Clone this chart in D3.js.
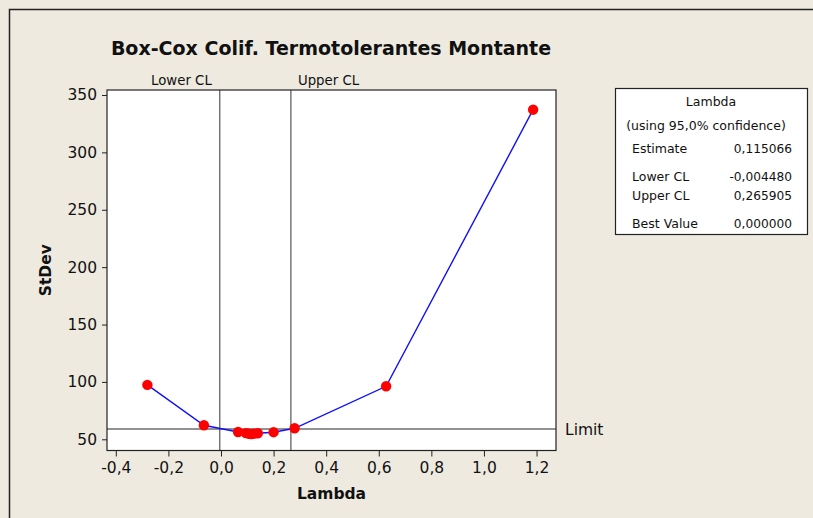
<!DOCTYPE html>
<html>
<head>
<meta charset="utf-8">
<script src="https://cdn.jsdelivr.net/npm/d3@7"></script>
<style>
  html, body { margin: 0; padding: 0; background: #eeeae0; }
  svg { display: block; }
  text { font-family: "DejaVu Sans", Verdana, sans-serif; fill: #111; }
</style>
</head>
<body>
<svg id="chart" width="813" height="518"></svg>
<script>
// Box-Cox search: lambda values tried and the pooled StDev at each one
const lambdas = [-0.28, -0.065, 0.065, 0.095, 0.105, 0.115, 0.125, 0.14, 0.2, 0.28, 0.628, 1.187];
const stdevs  = [97.4, 62.2, 56.4, 55.4, 54.9, 54.6, 54.8, 55.3, 56.2, 59.6, 96.2, 337.2];

// Confidence limits and the StDev limit line
const lowerCL = -0.004480;
const upperCL = 0.265905;
const limitValue = 59.0;

// Axis ticks
const xTicks = [-0.4, -0.2, 0.0, 0.2, 0.4, 0.6, 0.8, 1.0, 1.2];
const yTicks = [50, 100, 150, 200, 250, 300, 350];

// Summary box rows
const boxLabels = ["Estimate", "Lower CL", "Upper CL", "Best Value"];
const boxValues = ["0,115066", "-0,004480", "0,265905", "0,000000"];

// one decimal, comma separator, plain hyphen for negatives
const fmtComma = d => (d < 0 ? "-" : "") + Math.abs(d).toFixed(1).replace(".", ",");

const svg = d3.select("#chart");

// outer frame (top and left edges)
svg.append("path")
  .attr("d", "M9.5,518 L9.5,9.5 L813,9.5")
  .attr("fill", "none").attr("stroke", "#222").attr("stroke-width", 1.5);

const plot = { left: 107, right: 556, top: 90, bottom: 450.5 };

const x = d3.scaleLinear().domain([-0.4335, 1.274]).range([plot.left, plot.right]);
const y = d3.scaleLinear().domain([40.24, 354.36]).range([plot.bottom, plot.top]);

// plot background
svg.append("rect")
  .attr("x", plot.left).attr("y", plot.top)
  .attr("width", plot.right - plot.left).attr("height", plot.bottom - plot.top)
  .attr("fill", "#fff");

// limit line
svg.append("line")
  .attr("x1", plot.left).attr("x2", plot.right)
  .attr("y1", y(limitValue)).attr("y2", y(limitValue))
  .attr("stroke", "#6e6e6e").attr("stroke-width", 1.5);

svg.append("text")
  .attr("x", plot.right + 9).attr("y", y(limitValue) + 6)
  .attr("font-size", 15.5).text("Limit");

// confidence-limit lines
[lowerCL, upperCL].forEach(v => {
  svg.append("line")
    .attr("x1", x(v)).attr("x2", x(v))
    .attr("y1", plot.top).attr("y2", plot.bottom)
    .attr("stroke", "#333").attr("stroke-width", 1);
});
svg.append("text")
  .attr("x", x(lowerCL) - 8).attr("y", 85)
  .attr("text-anchor", "end").attr("font-size", 13.3).text("Lower CL");
svg.append("text")
  .attr("x", x(upperCL) + 7).attr("y", 85)
  .attr("text-anchor", "start").attr("font-size", 13.3).text("Upper CL");

// StDev curve
const line = d3.line().x((d, i) => x(lambdas[i])).y(d => y(d));
svg.append("path")
  .datum(stdevs)
  .attr("d", line)
  .attr("fill", "none").attr("stroke", "#1010ff").attr("stroke-width", 1.4);

svg.append("g").selectAll("circle")
  .data(stdevs)
  .join("circle")
  .attr("cx", (d, i) => x(lambdas[i]))
  .attr("cy", d => y(d))
  .attr("r", 5.2)
  .attr("fill", "#ff0000");

// plot border
svg.append("rect")
  .attr("x", plot.left).attr("y", plot.top)
  .attr("width", plot.right - plot.left).attr("height", plot.bottom - plot.top)
  .attr("fill", "none").attr("stroke", "#222").attr("stroke-width", 1.2);

// axes
const xAxis = d3.axisBottom(x).tickValues(xTicks).tickFormat(fmtComma).tickSize(6).tickSizeOuter(0).tickPadding(5);
const gx = svg.append("g").attr("transform", `translate(0,${plot.bottom})`).call(xAxis);
gx.select(".domain").remove();
gx.selectAll("line").attr("stroke", "#222");
gx.selectAll("text").attr("font-size", 15.5).attr("font-family", "DejaVu Sans, sans-serif").attr("fill", "#111");

const yAxis = d3.axisLeft(y).tickValues(yTicks).tickFormat(d3.format("d")).tickSize(5).tickSizeOuter(0).tickPadding(5);
const gy = svg.append("g").attr("transform", `translate(${plot.left},0)`).call(yAxis);
gy.select(".domain").remove();
gy.selectAll("line").attr("stroke", "#222");
gy.selectAll("text").attr("font-size", 15.5).attr("font-family", "DejaVu Sans, sans-serif").attr("fill", "#111");

// titles
svg.append("text")
  .attr("x", 331).attr("y", 55)
  .attr("text-anchor", "middle").attr("font-size", 19).attr("font-weight", "bold")
  .text("Box-Cox Colif. Termotolerantes Montante");

svg.append("text")
  .attr("x", (plot.left + plot.right) / 2).attr("y", 499)
  .attr("text-anchor", "middle").attr("font-size", 15.5).attr("font-weight", "bold")
  .text("Lambda");

svg.append("text")
  .attr("transform", `translate(51,${(plot.top + plot.bottom) / 2}) rotate(-90)`)
  .attr("text-anchor", "middle").attr("font-size", 15.5).attr("font-weight", "bold")
  .text("StDev");

// summary box
const box = { x: 615, y: 88.5, w: 192, h: 146 };
svg.append("rect")
  .attr("x", box.x + 0.5).attr("y", box.y).attr("width", box.w).attr("height", box.h)
  .attr("fill", "#fff").attr("stroke", "#222").attr("stroke-width", 1.2);

svg.append("text")
  .attr("x", 711).attr("y", 106)
  .attr("text-anchor", "middle").attr("font-size", 12.5).text("Lambda");
svg.append("text")
  .attr("x", 706).attr("y", 130)
  .attr("text-anchor", "middle").attr("font-size", 12.5).text("(using 95,0% confidence)");

const rowY = [153, 181, 200, 228];
boxLabels.forEach((lab, i) => {
  svg.append("text").attr("x", 632).attr("y", rowY[i]).attr("font-size", 12.5).text(lab);
  svg.append("text").attr("x", 792).attr("y", rowY[i])
    .attr("text-anchor", "end").attr("font-size", 12.2).text(boxValues[i]);
});
</script>
</body>
</html>
